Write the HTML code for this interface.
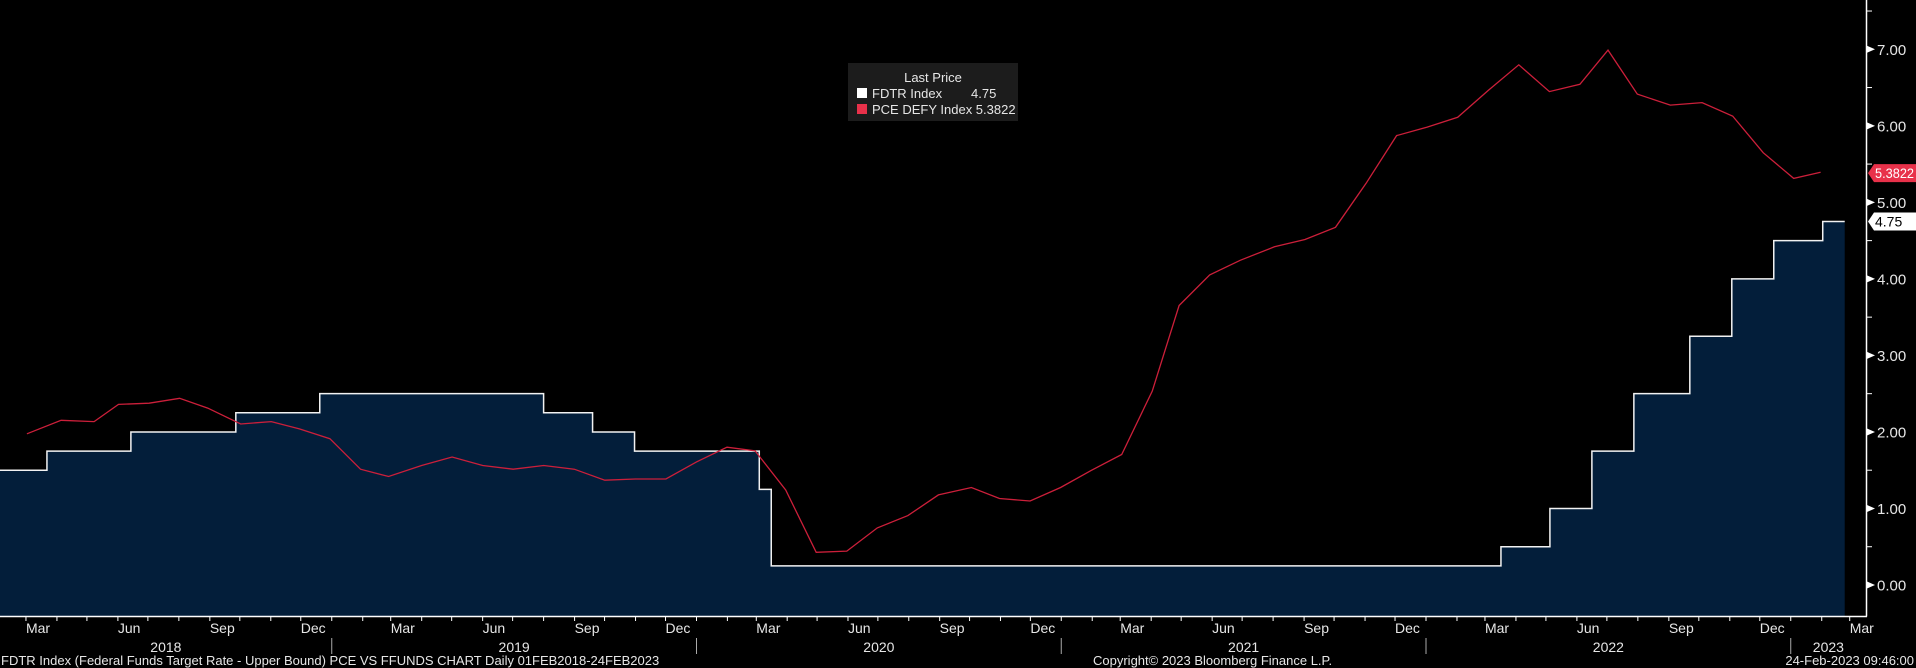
<!DOCTYPE html>
<html><head><meta charset="utf-8"><style>
html,body{margin:0;padding:0;background:#000;width:1916px;height:668px;overflow:hidden}
svg{display:block}
text{font-family:"Liberation Sans",sans-serif}
</style></head><body>
<svg id="s" width="1916" height="668" xmlns="http://www.w3.org/2000/svg"></svg>
<script>
const S=document.getElementById('s');
const NS='http://www.w3.org/2000/svg';
function el(t,a,txt){const e=document.createElementNS(NS,t);for(const k in a)e.setAttribute(k,a[k]);if(txt!==undefined)e.textContent=txt;S.appendChild(e);return e;}
function X(y,m,d){const t0=Date.UTC(y,0,1),t1=Date.UTC(y+1,0,1),t=Date.UTC(y,m-1,d);return -33+364.75*((y-2018)+(t-t0)/(t1-t0));}
function Y(v){return 585-76.53*v;}
const steps=[[2018,2,1,1.5],[2018,3,22,1.75],[2018,6,14,2.0],[2018,9,27,2.25],[2018,12,20,2.5],[2019,8,1,2.25],[2019,9,19,2.0],[2019,10,31,1.75],[2020,3,4,1.25],[2020,3,16,0.25],[2022,3,17,0.5],[2022,5,5,1.0],[2022,6,16,1.75],[2022,7,28,2.5],[2022,9,22,3.25],[2022,11,3,4.0],[2022,12,15,4.5],[2023,2,2,4.75]];
const xe=X(2023,2,24);
let d='M0 '+Y(1.5);
for(let i=0;i<steps.length;i++){const s=steps[i];const x=i==0?0:X(s[0],s[1],s[2]);if(i>0)d+=' L'+x+' '+Y(steps[i-1][3]);d+=' L'+x+' '+Y(s[3]);}
d+=' L'+xe+' '+Y(4.75);
el('path',{d:d+' L'+xe+' 616 L0 616 Z',fill:'#031e3a'});
el('path',{d:d,fill:'none',stroke:'#f2f2f2','stroke-width':1.5});
const pv=[[22,355],[50,344],[77,345],[97,331],[122,330],[147,326],[170,334],[197,347],[222,345],[245,351],[270,359],[295,384],[318,390],[345,381],[370,374],[395,381],[420,384],[445,381],[470,384],[495,393],[520,392],[545,392],[570,378],[595,366],[618,369],[643,401],[668,452],[693,451],[718,432],[743,422],[768,405],[795,399],[818,408],[843,410],[868,399],[893,385],[918,372],[943,320],[965,250],[990,225],[1015,213],[1043,202],[1068,196],[1093,186],[1118,150],[1143,111],[1168,104],[1193,96],[1218,74],[1243,53],[1268,75],[1293,69],[1316,41],[1340,77],[1367,86],[1393,84],[1418,95],[1443,125],[1468,146],[1490,141]];
const k=1.2219;
el('polyline',{points:pv.map(p=>(p[0]*k).toFixed(1)+','+(p[1]*k).toFixed(1)).join(' '),fill:'none',stroke:'#cc1f3a','stroke-width':1.3});
el('line',{x1:1866.5,y1:0,x2:1866.5,y2:616.5,stroke:'#fff','stroke-width':1.5});
el('line',{x1:0,y1:616.5,x2:1867,y2:616.5,stroke:'#fff','stroke-width':1.5});
for(let v=-0.5;v<=7.5;v+=0.5){const y=Y(v);if(y<0||y>616)continue;
 if(Math.abs(v-Math.round(v))<1e-6){el('path',{d:`M1867 ${y-3.5} L1875 ${y} L1867 ${y+3.5}Z`,fill:'#fff'});
  el('text',{x:1877,y:y+5.5,fill:'#e6e6e6','font-size':15},v.toFixed(2));}
 else el('line',{x1:1867,y1:y,x2:1872,y2:y,stroke:'#fff','stroke-width':1});}
let ty=Y(5.3822);
el('path',{d:`M1868 ${ty} L1874 ${ty-9} L1916 ${ty-9} L1916 ${ty+9} L1874 ${ty+9}Z`,fill:'#e8314a'});
el('text',{x:1875,y:ty+5,fill:'#fff','font-size':14,textLength:39,lengthAdjust:'spacingAndGlyphs'},'5.3822');
ty=Y(4.75);
el('path',{d:`M1868 ${ty} L1874 ${ty-9} L1916 ${ty-9} L1916 ${ty+9} L1874 ${ty+9}Z`,fill:'#fff'});
el('text',{x:1875,y:ty+5,fill:'#000','font-size':14},'4.75');
const mn=['Jan','Feb','Mar','Apr','May','Jun','Jul','Aug','Sep','Oct','Nov','Dec'];
for(let y=2018;y<=2023;y++)for(let m=1;m<=12;m++){const x=X(y,m,1);if(x<0||x>1866)continue;
 el('line',{x1:x,y1:616,x2:x,y2:621,stroke:'#fff','stroke-width':1});
 if(m%3==0)el('text',{x:x,y:633,fill:'#e6e6e6','font-size':14},mn[m-1]);}
for(let y=2018;y<=2023;y++){const a=Math.max(0,X(y,1,1)),b=Math.min(1866,X(y+1,1,1));
 el('text',{x:(a+b)/2,y:652,fill:'#e6e6e6','font-size':14,'text-anchor':'middle'},String(y));
 if(y>2018){const x=X(y,1,1);el('line',{x1:x,y1:638,x2:x,y2:654,stroke:'#aaa','stroke-width':1});}}
el('text',{x:1,y:665,fill:'#e6e6e6','font-size':13},'FDTR Index (Federal Funds Target Rate - Upper Bound) PCE VS FFUNDS CHART  Daily 01FEB2018-24FEB2023');
el('text',{x:1093,y:665,fill:'#e6e6e6','font-size':13},'Copyright\u00a9 2023 Bloomberg Finance L.P.');
el('text',{x:1914,y:665,fill:'#e6e6e6','font-size':13,'text-anchor':'end'},'24-Feb-2023 09:46:00');
el('rect',{x:848,y:63,width:170,height:58,fill:'#1c1c1c'});
el('text',{x:933,y:82,fill:'#e6e6e6','font-size':13,'text-anchor':'middle'},'Last Price');
el('rect',{x:857,y:88,width:10,height:10,fill:'#fff'});
el('text',{x:872,y:98,fill:'#e6e6e6','font-size':13},'FDTR Index');
el('text',{x:971,y:98,fill:'#e6e6e6','font-size':13},'4.75');
el('rect',{x:857,y:104,width:10,height:10,fill:'#e8314a'});
el('text',{x:872,y:114,fill:'#e6e6e6','font-size':13},'PCE DEFY Index 5.3822');
</script>
</body></html>
